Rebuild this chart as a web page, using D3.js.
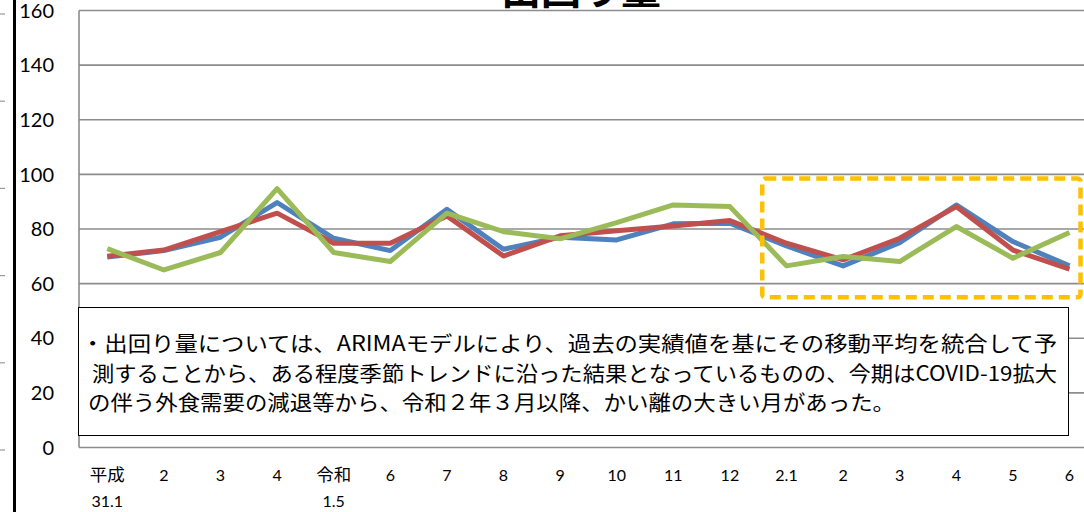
<!DOCTYPE html>
<html>
<head>
<meta charset="utf-8">
<script src="https://cdn.jsdelivr.net/npm/d3@7"></script>
<style>
  html, body { margin: 0; padding: 0; background: #fff; }
  svg { display: block; }
  .num { font-family: Lato, "Open Sans", sans-serif; fill: #000; }
  .jp { font-family: "Noto Sans CJK JP", sans-serif; fill: #000; }
</style>
</head>
<body>
<svg></svg>
<script>
//Chart Data
const labelTop = ["平成", "2", "3", "4", "令和", "6", "7", "8", "9", "10", "11", "12", "2.1", "2", "3", "4", "5", "6"];
const labelBottom = ["31.1", "", "", "", "1.5", "", "", "", "", "", "", "", "", "", "", "", "", ""];
const seriesBlue = [69.7, 72.1, 77.0, 89.7, 76.6, 72.1, 87.2, 72.6, 77.0, 76.0, 81.9, 82.1, 73.8, 66.5, 75.0, 88.8, 75.4, 66.5];
const seriesRed = [70.0, 72.3, 79.0, 85.8, 74.8, 74.8, 84.8, 70.1, 77.5, 79.4, 81.1, 83.1, 74.8, 68.7, 76.6, 88.2, 72.3, 65.3];
const seriesGreen = [72.8, 65.0, 71.4, 94.8, 71.4, 68.1, 85.8, 79.0, 76.4, 82.3, 88.8, 88.2, 66.5, 69.9, 68.1, 80.9, 69.3, 78.7];
const yTicks = [0, 20, 40, 60, 80, 100, 120, 140, 160];
const title = "出回り量";
const noteLines = [
  "・出回り量については、ARIMAモデルにより、過去の実績値を基にその移動平均を統合して予",
  "測することから、ある程度季節トレンドに沿った結果となっているものの、今期はCOVID-19拡大",
  "の伴う外食需要の減退等から、令和２年３月以降、かい離の大きい月があった。"
];

const w = 1084;
const h = 512;
const left = 79;
const step = 56.6;

const chart = d3.select("svg").attr("width", w).attr("height", h);

//Scales
const idx = d3.range(labelTop.length);
const xScale = d3.scaleBand()
                 .domain(idx)
                 .range([left, left + step * idx.length])
                 .padding(0);
const xMid = (i) => xScale(i) + xScale.bandwidth() / 2;
const yScale = d3.scaleLinear()
                 .domain([0, 160])
                 .range([447.5, 10.5]);

//Leftover ticks and thick bar at far left
const leftTickScale = d3.scaleLinear().domain([0, 5]).range([14, 450]);
chart.append("g")
     .selectAll("line")
     .data(d3.range(6))
     .enter()
     .append("line")
     .attr("x1", 0).attr("x2", 5)
     .attr("y1", (d) => leftTickScale(d))
     .attr("y2", (d) => leftTickScale(d))
     .attr("stroke", "#9a9a9a")
     .attr("stroke-width", 1.2);
chart.append("line")
     .attr("x1", 14.5).attr("x2", 14.5)
     .attr("y1", 0).attr("y2", h)
     .attr("stroke", "#000")
     .attr("stroke-width", 3);

//Gridlines
chart.append("g")
     .selectAll("line")
     .data(yTicks)
     .enter()
     .append("line")
     .attr("x1", left)
     .attr("x2", xScale.range()[1])
     .attr("y1", (d) => yScale(d))
     .attr("y2", (d) => yScale(d))
     .attr("stroke", "#8c8c8c")
     .attr("stroke-width", 1.6);
chart.append("line")
     .attr("x1", left).attr("x2", left)
     .attr("y1", yScale(160)).attr("y2", yScale(0))
     .attr("stroke", "#8c8c8c")
     .attr("stroke-width", 1.6);

//Y labels
chart.append("g")
     .selectAll("text")
     .data(yTicks)
     .enter()
     .append("text")
     .classed("num", true)
     .attr("x", 54)
     .attr("y", (d) => yScale(d))
     .attr("dy", "0.36em")
     .attr("text-anchor", "end")
     .attr("font-size", 20)
     .text((d) => d);

//X labels
const xl = chart.append("g");
xl.selectAll("text.top")
  .data(labelTop)
  .enter()
  .append("text")
  .attr("class", (d) => /[0-9]/.test(d) ? "num top" : "jp top")
  .attr("x", (d, i) => xMid(i))
  .attr("y", 481)
  .attr("text-anchor", "middle")
  .attr("font-size", (d) => /[0-9]/.test(d) ? 16 : 17.5)
  .text((d) => d);
xl.selectAll("text.bot")
  .data(labelBottom)
  .enter()
  .append("text")
  .attr("class", "num bot")
  .attr("x", (d, i) => xMid(i))
  .attr("y", 507)
  .attr("text-anchor", "middle")
  .attr("font-size", 16)
  .text((d) => d);

//Lines
const line = d3.line()
               .x((d, i) => xMid(i))
               .y((d) => yScale(d));
const series = [
  { values: seriesBlue, color: "#4F81BD" },
  { values: seriesRed, color: "#C0504D" },
  { values: seriesGreen, color: "#9BBB59" }
];
chart.append("g")
     .selectAll("path")
     .data(series)
     .enter()
     .append("path")
     .attr("d", (d) => line(d.values))
     .attr("fill", "none")
     .attr("stroke", (d) => d.color)
     .attr("stroke-width", 5)
     .attr("stroke-linejoin", "round");

//Dashed highlight box (last 6 months)
const boxX0 = xScale(12) + 4;
const boxX1 = xMid(17) + 11;
chart.append("rect")
     .attr("x", boxX0)
     .attr("y", yScale(98.5))
     .attr("width", boxX1 - boxX0)
     .attr("height", yScale(55) - yScale(98.5))
     .attr("rx", 3)
     .attr("fill", "none")
     .attr("stroke", "#FFC000")
     .attr("stroke-width", 4.5)
     .attr("stroke-dasharray", "11,6");

//Note box
chart.append("rect")
     .attr("x", 78.5)
     .attr("y", 307.5)
     .attr("width", 990)
     .attr("height", 128)
     .attr("fill", "#fff")
     .attr("stroke", "#000")
     .attr("stroke-width", 1);
const noteWidths = [976, 965, 807];
const noteX = [81, 92, 88];
chart.append("g")
     .selectAll("text")
     .data(noteLines)
     .enter()
     .append("text")
     .classed("jp", true)
     .attr("x", (d, i) => noteX[i])
     .attr("y", (d, i) => 351 + i * 29.5)
     .attr("font-size", 21)
     .attr("textLength", (d, i) => noteWidths[i])
     .attr("lengthAdjust", "spacingAndGlyphs")
     .text((d) => d);

//Title (cut off at top)
chart.append("text")
     .classed("jp", true)
     .attr("x", 581)
     .attr("y", 4)
     .attr("text-anchor", "middle")
     .attr("font-size", 40)
     .attr("font-weight", "bold")
     .text(title);
</script>
</body>
</html>
